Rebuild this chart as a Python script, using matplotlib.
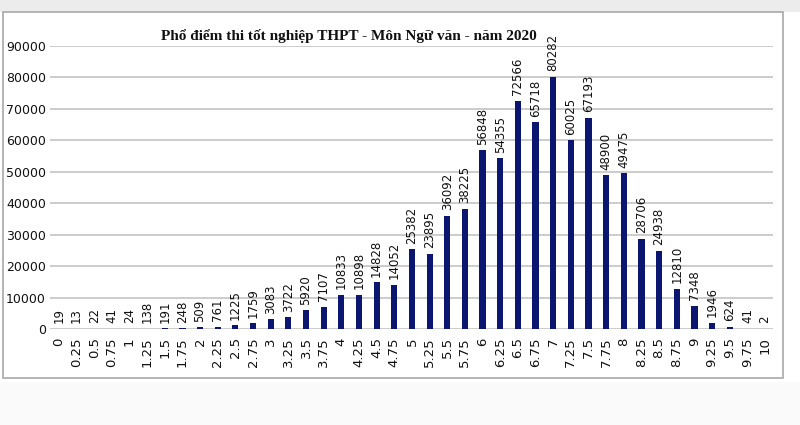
import matplotlib.pyplot as plt
from matplotlib.patches import Rectangle

# score bins and number of candidates
scores = ["0", "0.25", "0.5", "0.75", "1", "1.25", "1.5", "1.75", "2", "2.25",
          "2.5", "2.75", "3", "3.25", "3.5", "3.75", "4", "4.25", "4.5", "4.75",
          "5", "5.25", "5.5", "5.75", "6", "6.25", "6.5", "6.75", "7", "7.25",
          "7.5", "7.75", "8", "8.25", "8.5", "8.75", "9", "9.25", "9.5", "9.75", "10"]
counts = [19, 13, 22, 41, 24, 138, 191, 248, 509, 761,
          1225, 1759, 3083, 3722, 5920, 7107, 10833, 10898, 14828, 14052,
          25382, 23895, 36092, 38225, 56848, 54355, 72566, 65718, 80282, 60025,
          67193, 48900, 49475, 28706, 24938, 12810, 7348, 1946, 624, 41, 2]
yticks = [0, 10000, 20000, 30000, 40000, 50000, 60000, 70000, 80000, 90000]

title = "Phổ điểm thi tốt nghiệp THPT - Môn Ngữ văn - năm 2020"
bar_color = '#0b1670'

fig = plt.figure(figsize=(8, 4.25), dpi=100)
fig.patch.set_facecolor('white')

# grey strip on top and the outer chart frame
fig.patches.append(Rectangle((0, 1 - 12/425), 1, 12/425, transform=fig.transFigure,
                             facecolor='#ececec', edgecolor='none', zorder=-5))
fig.patches.append(Rectangle((3/800, 1 - 378/425), 780/800, 366/425,
                             transform=fig.transFigure, facecolor='white',
                             edgecolor='#a8a8a8', lw=1.2, zorder=-5))
fig.patches.append(Rectangle((0, 0), 1, 1 - 382/425, transform=fig.transFigure,
                             facecolor='#fafafa', edgecolor='none', zorder=-5))

ax = fig.add_axes([50/800, 1 - 329/425, 723/800, 283/425])
ax.set_facecolor('none')
ax.set_zorder(2)

x = list(range(len(scores)))
bars = ax.bar(x, counts, width=0.35, color=bar_color, zorder=3)

for xi, c in zip(x, counts):
    ax.annotate(str(c), (xi, c), xytext=(0, 4), textcoords='offset points',
                rotation=90, ha='center', va='bottom', fontsize=8.5,
                color='#111111', zorder=4)

ax.set_xlim(-0.5, len(scores) - 0.55)
ax.set_ylim(0, 90000)
ax.set_yticks(yticks)
ax.set_yticklabels([str(v) for v in yticks], fontsize=9, color='#111111')
ax.set_xticks(x)
ax.set_xticklabels(scores, rotation=90, fontsize=9.5, color='#111111')
ax.tick_params(axis='both', length=0)
ax.tick_params(axis='y', pad=3)
ax.tick_params(axis='x', pad=6)

ax.grid(axis='y', color='#c4c4c4', lw=1.2, zorder=0)
for s in ax.spines.values():
    s.set_visible(False)

fig.text(349/800, 1 - 36/425, title, ha='center', va='center',
         fontsize=11, fontweight='bold', family='Liberation Serif',
         color='#111111', zorder=5)

fig.savefig('out.png', dpi=100)
